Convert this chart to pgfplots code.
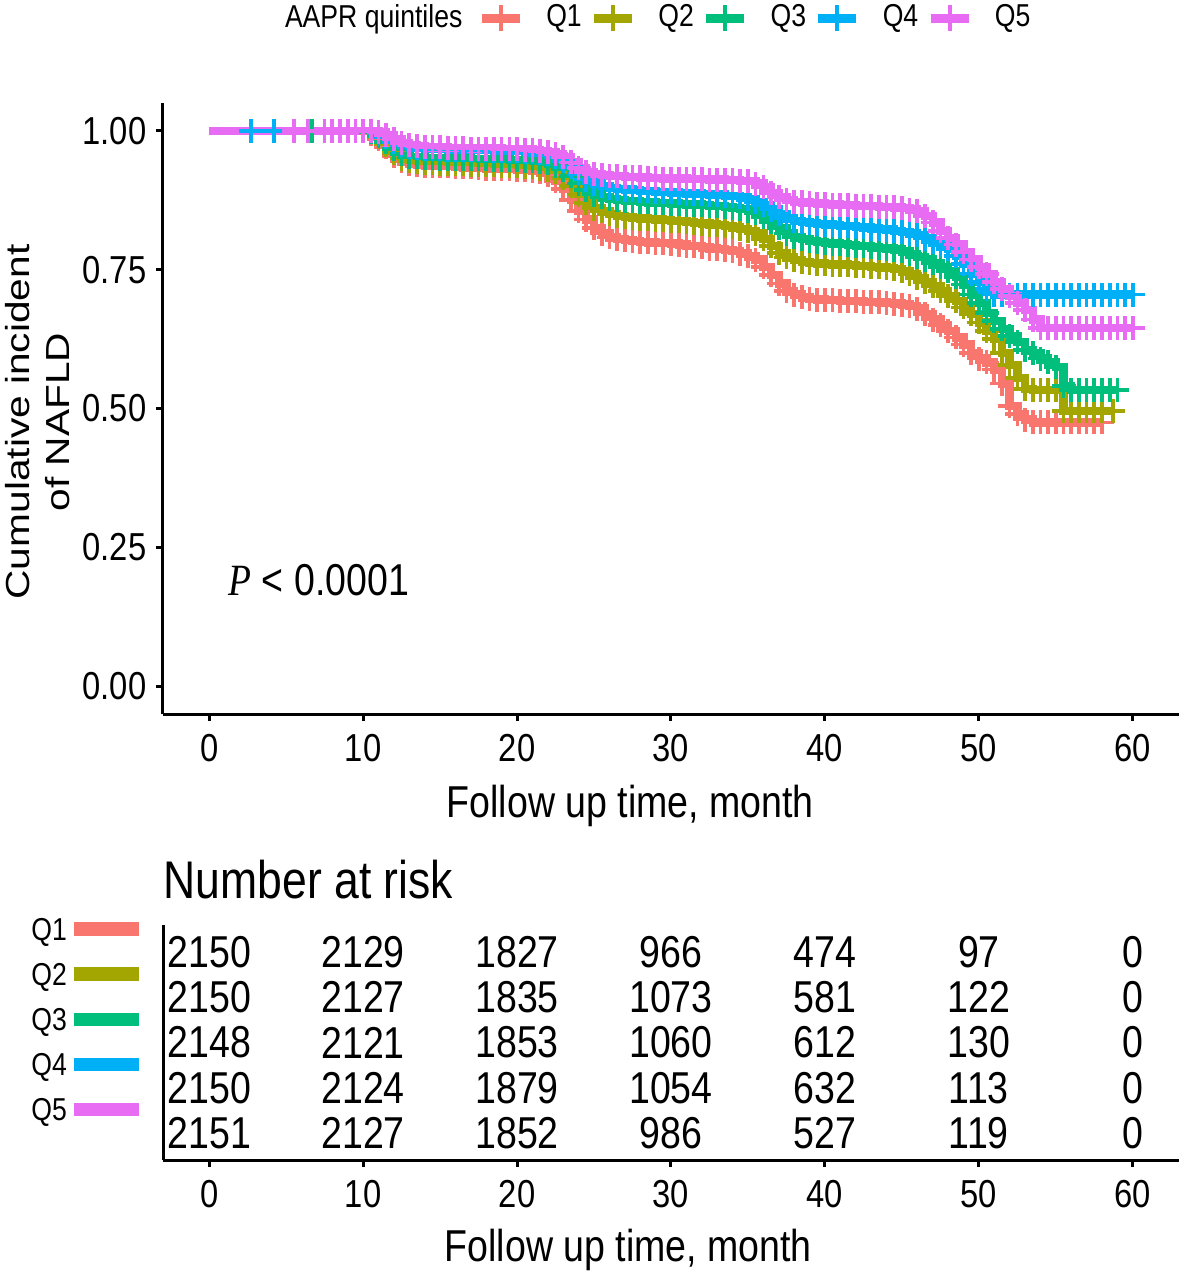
\documentclass[border=0pt]{standalone}
\usepackage{pgfplots}
\pgfplotsset{compat=1.18}
\usepackage{pgfplotstable}
\usepackage{fontspec}
\setmainfont{Liberation Sans}[FakeStretch=0.84]
\newfontfamily\ylabfont{Liberation Sans}[FakeStretch=1.22]
\newfontfamily\pfont{Liberation Serif}[FakeStretch=0.84]
\definecolor{q1}{HTML}{F8766D}
\definecolor{q2}{HTML}{A3A500}
\definecolor{q3}{HTML}{00BF7D}
\definecolor{q4}{HTML}{00B0F6}
\definecolor{q5}{HTML}{E76BF3}

\pgfplotstableread[row sep=\\]{
t s\\
0 1\\ 7 1\\ 7.5 1\\ 8 1\\ 8.5 1\\ 9 1\\ 9.5 1\\ 10 1\\ 10.5 0.995\\ 11 0.985\\ 11.5 0.97\\ 12 0.955\\ 12.5 0.945\\ 13 0.94\\ 13.5 0.938\\ 14 0.937\\ 14.5 0.937\\ 15 0.936\\ 15.5 0.936\\ 16 0.935\\ 16.5 0.934\\ 17 0.934\\ 17.5 0.933\\ 18 0.932\\ 18.5 0.932\\ 19 0.931\\ 19.5 0.931\\ 20 0.93\\ 20.5 0.929\\ 21 0.928\\ 21.5 0.925\\ 22 0.92\\ 22.5 0.91\\ 23 0.895\\ 23.5 0.875\\ 24 0.855\\ 24.5 0.84\\ 25 0.825\\ 25.5 0.815\\ 26 0.808\\ 26.5 0.805\\ 27 0.803\\ 27.5 0.801\\ 28 0.8\\ 28.5 0.799\\ 29 0.798\\ 29.5 0.798\\ 30 0.797\\ 30.5 0.795\\ 31 0.793\\ 31.5 0.792\\ 32 0.79\\ 32.5 0.788\\ 33 0.787\\ 33.5 0.785\\ 34 0.783\\ 34.5 0.779\\ 35 0.775\\ 35.5 0.768\\ 36 0.755\\ 36.5 0.74\\ 37 0.725\\ 37.5 0.712\\ 38 0.705\\ 38.5 0.7\\ 39 0.697\\ 39.5 0.696\\ 40 0.695\\ 40.5 0.695\\ 41 0.694\\ 41.5 0.694\\ 42 0.693\\ 42.5 0.692\\ 43 0.692\\ 43.5 0.691\\ 44 0.69\\ 44.5 0.689\\ 45 0.687\\ 45.5 0.684\\ 46 0.68\\ 46.5 0.67\\ 47 0.66\\ 47.5 0.65\\ 48 0.64\\ 48.5 0.628\\ 49 0.615\\ 49.5 0.6\\ 50 0.59\\ 50.5 0.583\\ 51 0.57\\ 51.5 0.545\\ 52 0.505\\ 52.5 0.49\\ 53 0.48\\ 53.5 0.475\\ 54 0.475\\ 54.5 0.475\\ 55 0.475\\ 55.5 0.475\\ 56 0.475\\ 56.5 0.475\\ 57 0.475\\ 57.5 0.475\\ 58 0.475\\
}\QA

\pgfplotstableread[row sep=\\]{
t s\\
0 1\\ 7 1\\ 7.5 1\\ 8 1\\ 8.5 1\\ 9 1\\ 9.5 1\\ 10 1\\ 10.5 0.997\\ 11 0.988\\ 11.5 0.975\\ 12 0.96\\ 12.5 0.95\\ 13 0.945\\ 13.5 0.943\\ 14 0.942\\ 14.5 0.942\\ 15 0.941\\ 15.5 0.941\\ 16 0.94\\ 16.5 0.94\\ 17 0.939\\ 17.5 0.939\\ 18 0.938\\ 18.5 0.938\\ 19 0.937\\ 19.5 0.937\\ 20 0.936\\ 20.5 0.935\\ 21 0.934\\ 21.5 0.932\\ 22 0.93\\ 22.5 0.925\\ 23 0.915\\ 23.5 0.9\\ 24 0.885\\ 24.5 0.87\\ 25 0.86\\ 25.5 0.855\\ 26 0.85\\ 26.5 0.847\\ 27 0.845\\ 27.5 0.843\\ 28 0.842\\ 28.5 0.841\\ 29 0.84\\ 29.5 0.839\\ 30 0.838\\ 30.5 0.837\\ 31 0.836\\ 31.5 0.834\\ 32 0.833\\ 32.5 0.831\\ 33 0.83\\ 33.5 0.828\\ 34 0.826\\ 34.5 0.823\\ 35 0.82\\ 35.5 0.815\\ 36 0.805\\ 36.5 0.793\\ 37 0.78\\ 37.5 0.772\\ 38 0.767\\ 38.5 0.764\\ 39 0.762\\ 39.5 0.761\\ 40 0.76\\ 40.5 0.759\\ 41 0.759\\ 41.5 0.758\\ 42 0.757\\ 42.5 0.756\\ 43 0.755\\ 43.5 0.754\\ 44 0.753\\ 44.5 0.751\\ 45 0.748\\ 45.5 0.742\\ 46 0.735\\ 46.5 0.728\\ 47 0.72\\ 47.5 0.712\\ 48 0.703\\ 48.5 0.693\\ 49 0.682\\ 49.5 0.67\\ 50 0.655\\ 50.5 0.64\\ 51 0.625\\ 51.5 0.6\\ 52 0.578\\ 52.5 0.555\\ 53 0.535\\ 53.5 0.533\\ 54 0.533\\ 54.5 0.533\\ 55 0.533\\ 55.5 0.495\\ 56 0.495\\ 56.5 0.495\\ 57 0.495\\ 57.5 0.495\\ 58 0.495\\ 58.7 0.495\\
}\QB

\pgfplotstableread[row sep=\\]{
t s\\
0 1\\ 7 1\\ 7.5 1\\ 8 1\\ 8.5 1\\ 9 1\\ 9.5 1\\ 10 1\\ 10.5 0.998\\ 11 0.99\\ 11.5 0.98\\ 12 0.967\\ 12.5 0.958\\ 13 0.953\\ 13.5 0.952\\ 14 0.951\\ 14.5 0.951\\ 15 0.95\\ 15.5 0.95\\ 16 0.95\\ 16.5 0.95\\ 17 0.949\\ 17.5 0.949\\ 18 0.949\\ 18.5 0.948\\ 19 0.948\\ 19.5 0.947\\ 20 0.947\\ 20.5 0.946\\ 21 0.945\\ 21.5 0.944\\ 22 0.942\\ 22.5 0.937\\ 23 0.93\\ 23.5 0.918\\ 24 0.905\\ 24.5 0.893\\ 25 0.885\\ 25.5 0.88\\ 26 0.877\\ 26.5 0.875\\ 27 0.874\\ 27.5 0.873\\ 28 0.872\\ 28.5 0.871\\ 29 0.87\\ 29.5 0.87\\ 30 0.869\\ 30.5 0.868\\ 31 0.867\\ 31.5 0.867\\ 32 0.866\\ 32.5 0.865\\ 33 0.864\\ 33.5 0.863\\ 34 0.861\\ 34.5 0.859\\ 35 0.856\\ 35.5 0.852\\ 36 0.845\\ 36.5 0.835\\ 37 0.825\\ 37.5 0.815\\ 38 0.808\\ 38.5 0.805\\ 39 0.802\\ 39.5 0.8\\ 40 0.798\\ 40.5 0.797\\ 41 0.796\\ 41.5 0.794\\ 42 0.793\\ 42.5 0.792\\ 43 0.79\\ 43.5 0.789\\ 44 0.788\\ 44.5 0.786\\ 45 0.783\\ 45.5 0.778\\ 46 0.773\\ 46.5 0.768\\ 47 0.762\\ 47.5 0.755\\ 48 0.748\\ 48.5 0.737\\ 49 0.723\\ 49.5 0.705\\ 50 0.69\\ 50.5 0.672\\ 51 0.657\\ 51.5 0.643\\ 52 0.63\\ 52.5 0.62\\ 53 0.605\\ 53.5 0.6\\ 54 0.59\\ 54.5 0.583\\ 55 0.575\\ 55.5 0.54\\ 56 0.533\\ 56.5 0.533\\ 57 0.533\\ 57.5 0.533\\ 58 0.533\\ 58.5 0.533\\ 59 0.533\\
}\QC

\pgfplotstableread[row sep=\\]{
t s\\
0 1\\ 7 1\\ 7.5 1\\ 8 1\\ 8.5 1\\ 9 1\\ 9.5 1\\ 10 1\\ 10.5 0.999\\ 11 0.995\\ 11.5 0.988\\ 12 0.98\\ 12.5 0.974\\ 13 0.97\\ 13.5 0.969\\ 14 0.968\\ 14.5 0.967\\ 15 0.967\\ 15.5 0.966\\ 16 0.966\\ 16.5 0.966\\ 17 0.965\\ 17.5 0.965\\ 18 0.965\\ 18.5 0.964\\ 19 0.964\\ 19.5 0.963\\ 20 0.963\\ 20.5 0.962\\ 21 0.961\\ 21.5 0.96\\ 22 0.958\\ 22.5 0.953\\ 23 0.946\\ 23.5 0.935\\ 24 0.922\\ 24.5 0.912\\ 25 0.905\\ 25.5 0.9\\ 26 0.897\\ 26.5 0.895\\ 27 0.894\\ 27.5 0.893\\ 28 0.892\\ 28.5 0.891\\ 29 0.89\\ 29.5 0.89\\ 30 0.889\\ 30.5 0.888\\ 31 0.887\\ 31.5 0.887\\ 32 0.886\\ 32.5 0.885\\ 33 0.885\\ 33.5 0.883\\ 34 0.882\\ 34.5 0.88\\ 35 0.877\\ 35.5 0.872\\ 36 0.866\\ 36.5 0.858\\ 37 0.85\\ 37.5 0.843\\ 38 0.838\\ 38.5 0.836\\ 39 0.834\\ 39.5 0.832\\ 40 0.831\\ 40.5 0.83\\ 41 0.829\\ 41.5 0.828\\ 42 0.827\\ 42.5 0.826\\ 43 0.824\\ 43.5 0.823\\ 44 0.822\\ 44.5 0.82\\ 45 0.818\\ 45.5 0.815\\ 46 0.812\\ 46.5 0.806\\ 47 0.8\\ 47.5 0.794\\ 48 0.787\\ 48.5 0.775\\ 49 0.76\\ 49.5 0.743\\ 50 0.728\\ 50.5 0.715\\ 51 0.705\\ 51.5 0.705\\ 52 0.705\\ 52.5 0.705\\ 53 0.705\\ 53.5 0.705\\ 54 0.705\\ 54.5 0.705\\ 55 0.705\\ 55.5 0.705\\ 56 0.705\\ 56.5 0.705\\ 57 0.705\\ 57.5 0.705\\ 58 0.705\\ 58.5 0.705\\ 59 0.705\\ 59.5 0.705\\ 60 0.705\\
}\QD

\pgfplotstableread[row sep=\\]{
t s\\
0 1\\ 7 1\\ 7.5 1\\ 8 1\\ 8.5 1\\ 9 1\\ 9.5 1\\ 10 1\\ 10.5 1\\ 11 0.997\\ 11.5 0.992\\ 12 0.985\\ 12.5 0.978\\ 13 0.974\\ 13.5 0.972\\ 14 0.971\\ 14.5 0.97\\ 15 0.97\\ 15.5 0.969\\ 16 0.969\\ 16.5 0.969\\ 17 0.968\\ 17.5 0.968\\ 18 0.968\\ 18.5 0.968\\ 19 0.967\\ 19.5 0.967\\ 20 0.967\\ 20.5 0.966\\ 21 0.965\\ 21.5 0.964\\ 22 0.962\\ 22.5 0.958\\ 23 0.952\\ 23.5 0.943\\ 24 0.933\\ 24.5 0.926\\ 25 0.922\\ 25.5 0.92\\ 26 0.919\\ 26.5 0.918\\ 27 0.917\\ 27.5 0.917\\ 28 0.916\\ 28.5 0.915\\ 29 0.915\\ 29.5 0.914\\ 30 0.914\\ 30.5 0.914\\ 31 0.913\\ 31.5 0.913\\ 32 0.913\\ 32.5 0.912\\ 33 0.912\\ 33.5 0.911\\ 34 0.911\\ 34.5 0.91\\ 35 0.909\\ 35.5 0.905\\ 36 0.898\\ 36.5 0.888\\ 37 0.88\\ 37.5 0.875\\ 38 0.872\\ 38.5 0.871\\ 39 0.87\\ 39.5 0.869\\ 40 0.868\\ 40.5 0.867\\ 41 0.866\\ 41.5 0.866\\ 42 0.865\\ 42.5 0.864\\ 43 0.864\\ 43.5 0.863\\ 44 0.863\\ 44.5 0.862\\ 45 0.861\\ 45.5 0.858\\ 46 0.855\\ 46.5 0.847\\ 47 0.835\\ 47.5 0.82\\ 48 0.807\\ 48.5 0.795\\ 49 0.782\\ 49.5 0.768\\ 50 0.755\\ 50.5 0.742\\ 51 0.728\\ 51.5 0.715\\ 52 0.703\\ 52.5 0.69\\ 53 0.677\\ 53.5 0.66\\ 54 0.645\\ 54.5 0.645\\ 55 0.645\\ 55.5 0.645\\ 56 0.645\\ 56.5 0.645\\ 57 0.645\\ 57.5 0.645\\ 58 0.645\\ 58.5 0.645\\ 59 0.645\\ 59.5 0.645\\ 60 0.645\\
}\QE

\pgfplotstableread{
t r n
0 5 2150
10 5 2129
20 5 1827
30 5 966
40 5 474
50 5 97
60 5 0
0 4 2150
10 4 2127
20 4 1835
30 4 1073
40 4 581
50 4 122
60 4 0
0 3 2148
10 3 2121
20 3 1853
30 3 1060
40 3 612
50 3 130
60 3 0
0 2 2150
10 2 2124
20 2 1879
30 2 1054
40 2 632
50 2 113
60 2 0
0 1 2151
10 1 2127
20 1 1852
30 1 986
40 1 527
50 1 119
60 1 0
}\risk

\pgfplotsset{
  kmline/.style={const plot, line width=2.5pt, mark=none},
  kmmark/.style={only marks, mark=+, mark size=3.6pt, mark options={line width=1.1pt}, restrict x to domain=7.4:70},
}
\newcommand{\legQ}[1]{\makebox[13pt][l]{#1}}

\begin{document}
\begin{tikzpicture}
\path[use as bounding box] (0pt,0pt) rectangle (354.3pt,-382.5pt);

\begin{axis}[
  at={(48.9pt,-214.2pt)}, anchor=south west, scale only axis,
  width=304.8pt, height=183.3pt,
  xmin=-3, xmax=63, ymin=-0.05, ymax=1.05,
  axis x line*=bottom, axis y line*=left,
  axis line style={line width=0.9pt, -},
  tick style={line width=0.9pt, black}, tick align=outside, major tick length=2.1pt,
  xtick={0,10,...,60}, ytick={0,0.25,0.5,0.75,1},
  yticklabels={0.00,0.25,0.50,0.75,1.00},
  /pgf/number format/assume math mode=true,
  ticklabel style={font=\fontsize{11.7}{14}\selectfont},
  xticklabel style={inner sep=0pt, yshift=-3.9pt},
  yticklabel style={inner sep=0pt, xshift=-2.7pt},
  xlabel={Follow up time, month},
  xlabel style={at={(axis description cs:0.46,-0.1686)}, anchor=base, inner sep=0pt, font=\fontsize{13.4}{16}\selectfont},
  ylabel={Cumulative incident\\of NAFLD},
  ylabel style={at={(axis description cs:-0.0915,0.478)}, anchor=south, inner sep=0pt, align=center, font=\ylabfont\fontsize{10}{12}\selectfont},
  legend columns=-1,
  legend style={at={(axis description cs:0.872,1.139)}, anchor=east, draw=none, fill=none,
    font=\fontsize{9.5}{11}\selectfont, nodes={inner sep=0pt}, /tikz/column sep=0pt,
    /tikz/every odd column/.append style={column sep=0pt},
    /tikz/every even column/.append style={column sep=0pt}},
  legend image code/.code={
    \path[draw=none, fill=none] (0pt,-4pt) rectangle (19.3pt,4pt);
    \draw[#1, line width=2.7pt] (0pt,0pt) -- (11.4pt,0pt);
    \draw[#1, line width=1.2pt] (5.7pt,-3.8pt) -- (5.7pt,3.8pt);},
]
\addlegendimage{empty legend}
\addlegendentry{AAPR quintiles\kern4.5pt\mbox{}}

\addplot[kmline, q1] table[x=t,y=s] {\QA};
\addlegendentry{\legQ{Q1}}
\addplot[kmline, q2] table[x=t,y=s] {\QB};
\addlegendentry{\legQ{Q2}}
\addplot[kmline, q3] table[x=t,y=s] {\QC};
\addlegendentry{\legQ{Q3}}
\addplot[kmline, q4] table[x=t,y=s] {\QD};
\addlegendentry{\legQ{Q4}}
\addplot[kmline, q5] table[x=t,y=s] {\QE};
\addlegendentry{\legQ{Q5}}

\addplot[kmmark, q1, forget plot] table[x=t,y=s] {\QA};
\addplot[kmmark, q2, forget plot] table[x=t,y=s] {\QB};
\addplot[kmmark, q2, forget plot] coordinates {(7,1)};
\addplot[kmmark, q3, forget plot] table[x=t,y=s] {\QC};
\addplot[only marks, mark=+, mark size=3.6pt, mark options={line width=1.1pt}, q3, forget plot] coordinates {(6.7,1)};
\addplot[kmmark, q4, forget plot] table[x=t,y=s] {\QD};
\addplot[only marks, mark=+, mark size=3.6pt, mark options={line width=1.1pt}, q4, forget plot] coordinates {(2.7,1) (4.2,1)};
\addplot[kmmark, q5, forget plot] table[x=t,y=s] {\QE};
\addplot[only marks, mark=+, mark size=3.6pt, mark options={line width=1.1pt}, q5, forget plot] coordinates {(5.5,1) (6.4,1)};

\node[anchor=base west, inner sep=0pt, font=\fontsize{13.4}{16}\selectfont] at (axis cs:1.22,0.164) {{\pfont\itshape P} \textless{} 0.0001};
\end{axis}

\begin{axis}[
  at={(48.9pt,-348pt)}, anchor=south west, scale only axis,
  width=304.8pt, height=70.5pt,
  xmin=-3, xmax=63, ymin=0.4, ymax=5.6,
  axis x line*=bottom, axis y line*=left,
  axis line style={line width=0.9pt, -},
  tick align=outside, major tick length=2.1pt,
  x tick style={line width=0.9pt, black}, y tick style={draw=none},
  xtick={0,10,...,60}, ytick={1,2,3,4,5},
  yticklabels={
    Q5 \textcolor{q5}{\rule[1.4pt]{19.5pt}{4pt}},
    Q4 \textcolor{q4}{\rule[1.4pt]{19.5pt}{4pt}},
    Q3 \textcolor{q3}{\rule[1.4pt]{19.5pt}{4pt}},
    Q2 \textcolor{q2}{\rule[1.4pt]{19.5pt}{4pt}},
    Q1 \textcolor{q1}{\rule[1.4pt]{19.5pt}{4pt}}},
  /pgf/number format/assume math mode=true,
  xticklabel style={inner sep=0pt, yshift=-3.9pt, font=\fontsize{11.7}{14}\selectfont},
  yticklabel style={inner sep=0pt, anchor=east, xshift=-4.8pt, yshift=6pt, font=\fontsize{9.5}{11}\selectfont},
  xlabel={Follow up time, month},
  xlabel style={at={(axis description cs:0.458,-0.43)}, anchor=base, inner sep=0pt, font=\fontsize{13.4}{16}\selectfont},
  title={Number at risk},
  title style={at={(axis description cs:0,1)}, anchor=base west, yshift=2.1pt, inner sep=0pt, font=\fontsize{15.9}{18}\selectfont},
]
\addplot[color=black, only marks, mark=none, nodes near coords, point meta=explicit symbolic,
  nodes near coords align={center},
  every node near coord/.append style={anchor=center, inner sep=0pt, text=black, font=\fontsize{13.4}{16}\selectfont}]
  table[x=t, y=r, meta=n] {\risk};
\end{axis}
\end{tikzpicture}
\end{document}
